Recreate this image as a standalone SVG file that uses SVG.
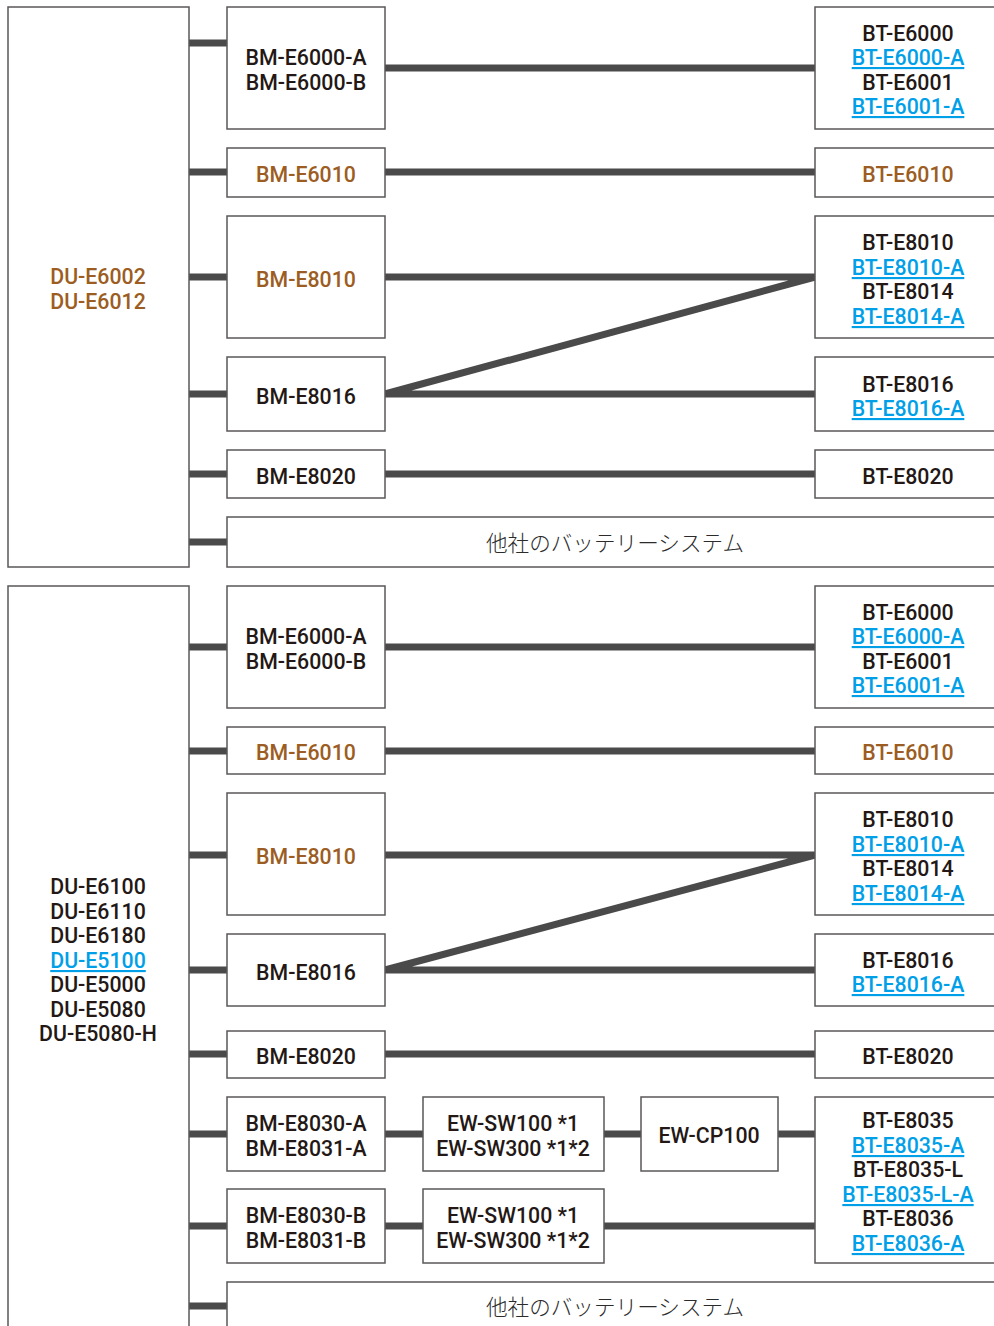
<svg xmlns="http://www.w3.org/2000/svg" width="994" height="1326" viewBox="0 0 994 1326">
<style>
.box{fill:#fff;stroke:#5a5757;stroke-width:1.5}
.ln{stroke:#4a4a4a;stroke-width:7;fill:none}
.t{font-family:Roboto,"Noto Sans",sans-serif;font-weight:500;font-size:21.3px;fill:#231815;text-anchor:middle}
.br{fill:#9c5d22}
.lk{fill:#00a0e9;text-decoration:underline}
.jp{font-family:"Noto Sans CJK JP",sans-serif;font-weight:300;font-size:21.6px;fill:#2b2b2b;text-anchor:middle}
</style>
<rect width="994" height="1326" fill="#fff"/>
<g id="connectors">
<path class="ln" d="M189 43H227M385 68H815M189 172H227M385 172H815M189 277H227M385 277H815L385 394M189 394H227M385 394H815M189 474H227M385 474H815M189 542H227"/>
<path class="ln" d="M189 647H227M385 647H815M189 751H227M385 751H815M189 855H227M385 855H815L385 970M189 970H227M385 970H815M189 1054H227M385 1054H815M189 1134H423M604 1134H641M778 1134H815M189 1226H423M604 1226H815M189 1306H227"/>
</g>
<g id="du-top"><rect class="box" x="8" y="7" width="181" height="560"/>
<text class="t br" x="98" y="284">DU-E6002</text><text class="t br" x="98" y="309">DU-E6012</text></g>
<g id="bm-e6000-top"><rect class="box" x="227" y="7" width="158" height="122"/>
<text class="t" x="306" y="65">BM-E6000-A</text><text class="t" x="306" y="90">BM-E6000-B</text></g>
<g id="bt-e6000-top"><rect class="box" x="815" y="7" width="190" height="122"/>
<text class="t" x="908" y="41">BT-E6000</text><text class="t lk" x="908" y="65">BT-E6000-A</text><text class="t" x="908" y="90">BT-E6001</text><text class="t lk" x="908" y="114">BT-E6001-A</text></g>
<g id="bm-e6010-top"><rect class="box" x="227" y="148" width="158" height="49"/>
<text class="t br" x="306" y="182">BM-E6010</text></g>
<g id="bt-e6010-top"><rect class="box" x="815" y="148" width="190" height="49"/>
<text class="t br" x="908" y="182">BT-E6010</text></g>
<g id="bm-e8010-top"><rect class="box" x="227" y="216" width="158" height="122"/>
<text class="t br" x="306" y="287">BM-E8010</text></g>
<g id="bt-e8010-top"><rect class="box" x="815" y="216" width="190" height="122"/>
<text class="t" x="908" y="250">BT-E8010</text><text class="t lk" x="908" y="275">BT-E8010-A</text><text class="t" x="908" y="299">BT-E8014</text><text class="t lk" x="908" y="324">BT-E8014-A</text></g>
<g id="bm-e8016-top"><rect class="box" x="227" y="357" width="158" height="74"/>
<text class="t" x="306" y="404">BM-E8016</text></g>
<g id="bt-e8016-top"><rect class="box" x="815" y="357" width="190" height="74"/>
<text class="t" x="908" y="392">BT-E8016</text><text class="t lk" x="908" y="416">BT-E8016-A</text></g>
<g id="bm-e8020-top"><rect class="box" x="227" y="450" width="158" height="48"/>
<text class="t" x="306" y="484">BM-E8020</text></g>
<g id="bt-e8020-top"><rect class="box" x="815" y="450" width="190" height="48"/>
<text class="t" x="908" y="484">BT-E8020</text></g>
<g id="other-top"><rect class="box" x="227" y="517" width="776" height="50"/>
<text class="jp" x="615" y="551">他社のバッテリーシステム</text></g>

<g id="du-bottom"><rect class="box" x="8" y="586" width="181" height="760"/>
<text class="t" x="98" y="894">DU-E6100</text><text class="t" x="98" y="919">DU-E6110</text><text class="t" x="98" y="943">DU-E6180</text><text class="t lk" x="98" y="968">DU-E5100</text><text class="t" x="98" y="992">DU-E5000</text><text class="t" x="98" y="1017">DU-E5080</text><text class="t" x="98" y="1041">DU-E5080-H</text></g>
<g id="bm-e6000-bottom"><rect class="box" x="227" y="586" width="158" height="122"/>
<text class="t" x="306" y="644">BM-E6000-A</text><text class="t" x="306" y="669">BM-E6000-B</text></g>
<g id="bt-e6000-bottom"><rect class="box" x="815" y="586" width="190" height="122"/>
<text class="t" x="908" y="620">BT-E6000</text><text class="t lk" x="908" y="644">BT-E6000-A</text><text class="t" x="908" y="669">BT-E6001</text><text class="t lk" x="908" y="693">BT-E6001-A</text></g>
<g id="bm-e6010-bottom"><rect class="box" x="227" y="727" width="158" height="47"/>
<text class="t br" x="306" y="760">BM-E6010</text></g>
<g id="bt-e6010-bottom"><rect class="box" x="815" y="727" width="190" height="47"/>
<text class="t br" x="908" y="760">BT-E6010</text></g>
<g id="bm-e8010-bottom"><rect class="box" x="227" y="793" width="158" height="122"/>
<text class="t br" x="306" y="864">BM-E8010</text></g>
<g id="bt-e8010-bottom"><rect class="box" x="815" y="793" width="190" height="122"/>
<text class="t" x="908" y="827">BT-E8010</text><text class="t lk" x="908" y="852">BT-E8010-A</text><text class="t" x="908" y="876">BT-E8014</text><text class="t lk" x="908" y="901">BT-E8014-A</text></g>
<g id="bm-e8016-bottom"><rect class="box" x="227" y="934" width="158" height="72"/>
<text class="t" x="306" y="980">BM-E8016</text></g>
<g id="bt-e8016-bottom"><rect class="box" x="815" y="934" width="190" height="72"/>
<text class="t" x="908" y="968">BT-E8016</text><text class="t lk" x="908" y="992">BT-E8016-A</text></g>
<g id="bm-e8020-bottom"><rect class="box" x="227" y="1031" width="158" height="47"/>
<text class="t" x="306" y="1064">BM-E8020</text></g>
<g id="bt-e8020-bottom"><rect class="box" x="815" y="1031" width="190" height="47"/>
<text class="t" x="908" y="1064">BT-E8020</text></g>
<g id="bm-e8030-a"><rect class="box" x="227" y="1097" width="158" height="74"/>
<text class="t" x="306" y="1131">BM-E8030-A</text><text class="t" x="306" y="1156">BM-E8031-A</text></g>
<g id="ew-sw-a"><rect class="box" x="423" y="1097" width="181" height="74"/>
<text class="t" x="513" y="1131">EW-SW100 *1</text><text class="t" x="513" y="1156">EW-SW300 *1*2</text></g>
<g id="ew-cp100"><rect class="box" x="641" y="1097" width="137" height="74"/>
<text class="t" x="709" y="1143">EW-CP100</text></g>
<g id="bt-e8035"><rect class="box" x="815" y="1097" width="190" height="166"/>
<text class="t" x="908" y="1128">BT-E8035</text><text class="t lk" x="908" y="1153">BT-E8035-A</text><text class="t" x="908" y="1177">BT-E8035-L</text><text class="t lk" x="908" y="1202">BT-E8035-L-A</text><text class="t" x="908" y="1226">BT-E8036</text><text class="t lk" x="908" y="1251">BT-E8036-A</text></g>
<g id="bm-e8030-b"><rect class="box" x="227" y="1189" width="158" height="74"/>
<text class="t" x="306" y="1223">BM-E8030-B</text><text class="t" x="306" y="1248">BM-E8031-B</text></g>
<g id="ew-sw-b"><rect class="box" x="423" y="1189" width="181" height="74"/>
<text class="t" x="513" y="1223">EW-SW100 *1</text><text class="t" x="513" y="1248">EW-SW300 *1*2</text></g>
<g id="other-bottom"><rect class="box" x="227" y="1282" width="776" height="60"/>
<text class="jp" x="615" y="1315">他社のバッテリーシステム</text></g>
</svg>
